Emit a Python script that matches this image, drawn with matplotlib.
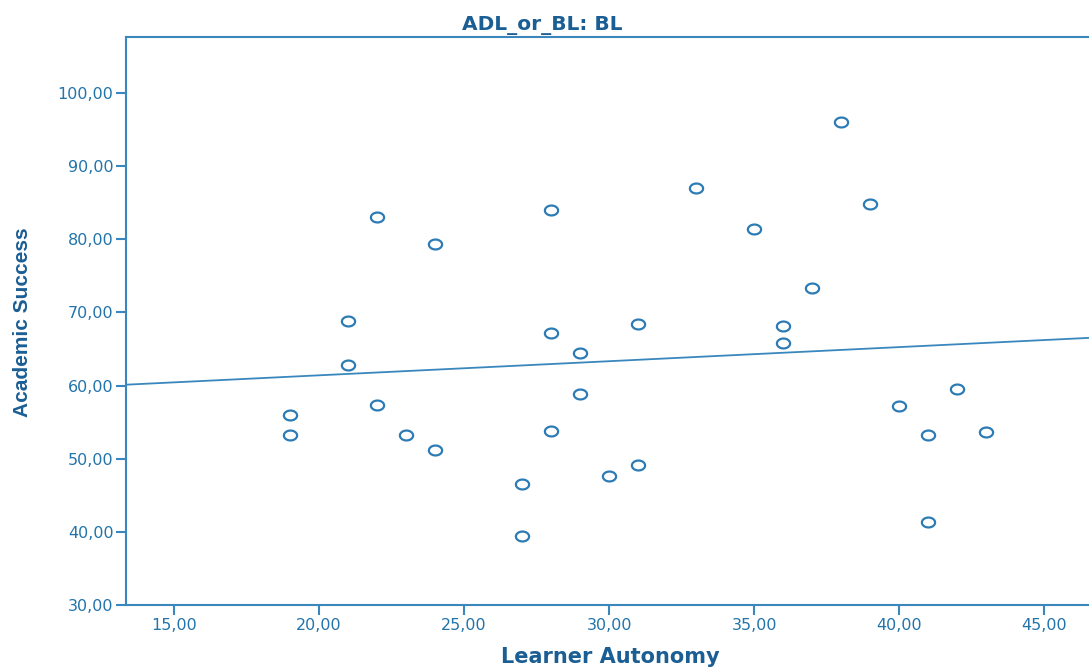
import numpy as np
import matplotlib
matplotlib.use("Agg")
import matplotlib.pyplot as plt
from matplotlib.path import Path

# Data
learner_autonomy = [19, 19, 21, 21, 22, 22, 23, 24, 24, 27, 27, 28, 28, 28, 29, 29,
                    30, 31, 31, 33, 35, 36, 36, 37, 38, 39, 40, 41, 41, 42, 43]
academic_success = [56.0, 53.2, 68.8, 62.8, 83.0, 57.4, 53.2, 79.4, 51.2, 46.6, 39.4,
                    84.0, 67.2, 53.8, 64.4, 58.8, 47.6, 68.4, 49.2, 87.0, 81.4, 68.2,
                    65.8, 73.4, 96.0, 84.8, 57.2, 53.2, 41.4, 59.6, 53.6]
x_ticks = [15, 20, 25, 30, 35, 40, 45]
y_ticks = [30, 40, 50, 60, 70, 80, 90, 100]
title = "ADL_or_BL: BL"
x_label = "Learner Autonomy"
y_label = "Academic Success"

axis_col = "#3a87bd"
text_col = "#2274ab"
title_col = "#1a5e94"
mark_col = "#2d7bb5"

W, H = 1089, 667
fig = plt.figure(figsize=(W / 100, H / 100), dpi=100)
ax = fig.add_axes([126 / W, 1 - 605 / H, 1 - 126 / W, (605 - 37) / H])

x0, x1 = 13.34, 46.55
ax.set_xlim(x0, x1)
ax.set_ylim(30, 107.66)

# ellipse marker (wider than tall)
t = np.linspace(0, 2 * np.pi, 60)
ell = Path(np.column_stack([np.cos(t), 0.75 * np.sin(t)]), closed=True)

ax.plot(learner_autonomy, academic_success, linestyle="none", marker=ell,
        markersize=9.5, markerfacecolor="white", markeredgecolor=mark_col,
        markeredgewidth=1.6, zorder=3)

# linear fit line
b, a = np.polyfit(learner_autonomy, academic_success, 1)
xs = np.array([x0, x1])
ax.plot(xs, a + b * xs, color=axis_col, linewidth=1.3, zorder=2)

ax.set_xticks(x_ticks)
ax.set_yticks(y_ticks)
ax.set_xticklabels([f"{v:.2f}".replace(".", ",") for v in x_ticks])
ax.set_yticklabels([f"{v:.2f}".replace(".", ",") for v in y_ticks])
ax.tick_params(colors=axis_col, labelcolor=text_col, labelsize=11.5,
               length=7, width=1.5, direction="out", pad=2)

for s in ["left", "bottom", "top"]:
    ax.spines[s].set_color(axis_col)
    ax.spines[s].set_linewidth(1.5)
ax.spines["right"].set_visible(False)

fig.text(542 / W, 1 - 30 / H, title, color=title_col, fontsize=14.5,
         fontweight="bold", ha="center", va="baseline")
fig.text(610 / W, 1 - 663 / H, x_label, color=title_col, fontsize=15,
         fontweight="bold", ha="center", va="baseline")
fig.text(22 / W, 1 - 322 / H, y_label, color=title_col, fontsize=15,
         fontweight="bold", family=["Liberation Sans", "DejaVu Sans"],
         rotation=90, ha="center", va="center")

fig.savefig("out.png", dpi=100)
